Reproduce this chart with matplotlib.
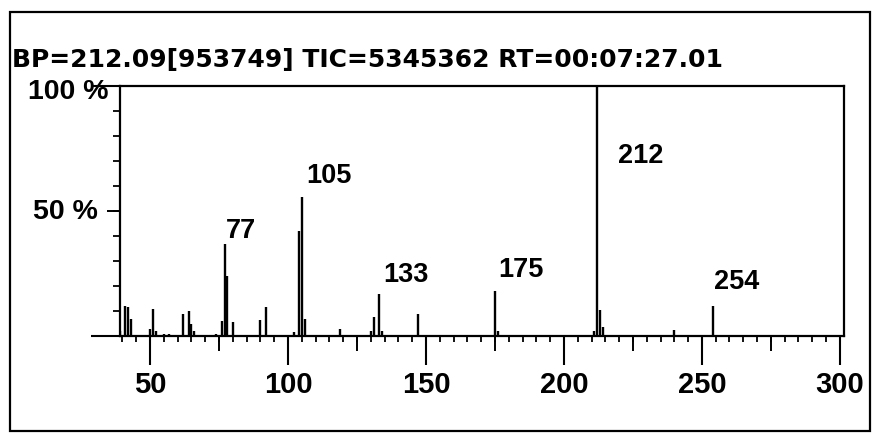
import matplotlib
matplotlib.use("Agg")
import matplotlib.pyplot as plt
import matplotlib.transforms as mtransforms
from matplotlib.ticker import MultipleLocator, FixedLocator, NullFormatter
from matplotlib.patches import Rectangle

# ---------------- data ----------------
title_text = "BP=212.09[953749] TIC=5345362 RT=00:07:27.01"

mz = [39, 41, 42, 43, 50, 51, 52, 55, 57, 62, 64, 65, 66, 74, 76, 77, 78, 80,
      90, 92, 102, 104, 105, 106, 119, 130, 131, 133, 134, 147, 175, 176,
      211, 212, 213, 214, 240, 254]
intensity = [2, 12, 11.5, 7, 3, 11, 2, 1, 1, 9, 10, 5, 2, 1, 6, 37, 24, 5.5,
             6.5, 11.5, 1.5, 42, 55.5, 7, 3, 2, 7.5, 17, 2, 9, 18, 2,
             2, 100, 10.5, 3.5, 2.5, 12]

labelled_peaks = [77, 105, 133, 175, 212, 254]
label_texts = ["77", "105", "133", "175", "212", "254"]

x_major = [50, 100, 150, 200, 250, 300]
x_major_labels = ["50", "100", "150", "200", "250", "300"]
x_medium = [75, 125, 175, 225, 275]
y_labels_pos = [50, 100]
y_labels_text = ["50 %", "100 %"]

# ---------------- figure ----------------
W, H = 875, 434
fig = plt.figure(figsize=(W / 100, H / 100), dpi=100)
fig.patch.set_facecolor("white")

# outer frame
fig.patches.append(Rectangle((10 / W, (H - 431) / H), 860 / W, 419 / H,
                             transform=fig.transFigure, fill=False,
                             edgecolor="black", linewidth=1.6))

ax = fig.add_axes([120 / W, (H - 336) / H, 724 / W, 250 / H])
ax.set_xlim(39.1, 301.5)
ax.set_ylim(0, 100)

for s in ax.spines.values():
    s.set_linewidth(1.6)

lab_font = dict(family=["Liberation Sans", "DejaVu Sans"], weight="bold")

# spectrum sticks
ax.vlines(mz, 0, intensity, colors="black", linewidth=1.7)

# x ticks
ax.xaxis.set_major_locator(FixedLocator(x_major))
ax.set_xticklabels(x_major_labels, fontsize=21, **lab_font)
ax.xaxis.set_minor_locator(MultipleLocator(5))
ax.tick_params(axis="x", which="major", direction="out", length=21,
               width=1.5, pad=4)
ax.tick_params(axis="x", which="minor", direction="out", length=4.3,
               width=1.3)
sec = ax.secondary_xaxis("bottom")
sec.set_xticks(x_medium)
sec.xaxis.set_major_formatter(NullFormatter())
sec.tick_params(axis="x", direction="out", length=10.8, width=1.4)
sec.spines["bottom"].set_visible(False)

# y ticks
ax.yaxis.set_major_locator(FixedLocator([0, 100]))
ax.yaxis.set_major_formatter(NullFormatter())
ax.yaxis.set_minor_locator(MultipleLocator(10))
ax.tick_params(axis="y", which="major", direction="out", length=21,
               width=1.5)
ax.tick_params(axis="y", which="minor", direction="out", length=5,
               width=1.3)
secy = ax.secondary_yaxis("left")
secy.set_yticks([50])
secy.yaxis.set_major_formatter(NullFormatter())
secy.tick_params(axis="y", direction="out", length=9.4, width=1.4)
secy.spines["left"].set_visible(False)

# y labels
ytrans = mtransforms.blended_transform_factory(ax.transAxes, ax.transData)
y_offsets = {50: (-22, -8), 100: (-12, -13)}
for v, t in zip(y_labels_pos, y_labels_text):
    ax.annotate(t, xy=(0, v), xycoords=ytrans, xytext=y_offsets[v],
                textcoords="offset pixels", ha="right", va="baseline",
                fontsize=20.5, annotation_clip=False, **lab_font)

# peak labels
peak_offsets = {77: (1, 5), 105: (4.5, 14), 133: (4.2, 11.5),
                175: (3.2, 14), 212: (20.7, -77), 254: (1.4, 17)}
inten_of = dict(zip(mz, intensity))
for p, t in zip(labelled_peaks, label_texts):
    ax.annotate(t, xy=(p, inten_of[p]), xytext=peak_offsets[p],
                textcoords="offset pixels", ha="left", va="baseline",
                fontsize=19.5, **lab_font)

# title
fig.text(12 / W, 1 - 60 / H, title_text, ha="left", va="center",
         fontsize=18, family=["DejaVu Sans"], weight="bold")

fig.savefig("out.png", dpi=100, facecolor="white")
